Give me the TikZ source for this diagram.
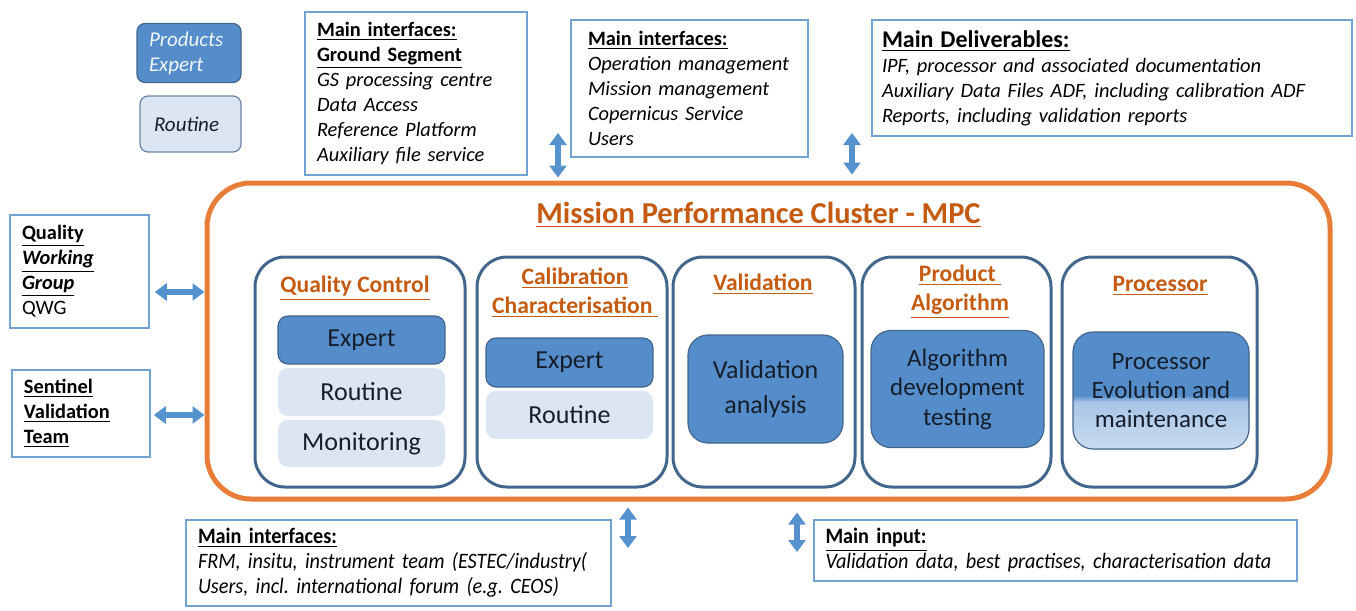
\documentclass[tikz,border=0pt]{standalone}
\usepackage{fontspec}
\setmainfont{Carlito}
\newfontfamily\narrowfont[FakeStretch=0.92]{Carlito}
\usetikzlibrary{arrows.meta}

\definecolor{mpcorange}{RGB}{232,125,55}
\definecolor{mpctitle}{RGB}{197,90,17}
\definecolor{darkfill}{RGB}{84,141,202}
\definecolor{lightfill}{RGB}{220,230,242}
\definecolor{procmid}{RGB}{168,198,230}
\definecolor{procbot}{RGB}{202,220,240}
\definecolor{clusterline}{RGB}{66,102,140}
\definecolor{infoline}{RGB}{112,162,212}
\definecolor{arrowblue}{RGB}{86,146,206}
\definecolor{darktext}{RGB}{22,30,44}

\pgfdeclareverticalshading{procfade}{100bp}{color(0bp)=(procbot); color(25bp)=(procbot);
  color(45bp)=(procmid); color(48bp)=(darkfill); color(100bp)=(darkfill)}

\begin{document}
\hyphenpenalty=10000
\frenchspacing
\begin{tikzpicture}[x=0.5pt, y=-0.5pt,
  infobox/.style={draw=infoline, line width=0.8pt, align=left, inner xsep=6pt, inner ysep=0pt,
    font=\fontsize{10.2}{12.5}\selectfont},
  cluster/.style={draw=clusterline, line width=1.5pt, rounded corners=15pt, minimum height=115pt},
  darkbox/.style={draw=clusterline, line width=0.6pt, fill=darkfill, rounded corners=5pt,
    text=darktext, align=center, font=\fontsize{13}{17.5}\selectfont},
  lightbox/.style={fill=lightfill, rounded corners=5pt, text=darktext, align=center,
    font=\fontsize{13}{17.5}\selectfont},
  head/.style={text=mpctitle, align=center, font=\fontsize{11.8}{14.5}\selectfont\bfseries},
  biarrow/.style={draw=arrowblue, line width=3pt, {Triangle[width=8.5pt,length=6pt]}-{Triangle[width=8.5pt,length=6pt]}}
]
\useasboundingbox (0,0) rectangle (1356,611);

% legend
\node[draw=clusterline, line width=0.6pt, fill=darkfill, rounded corners=4pt, minimum width=52pt,
  minimum height=29.5pt, text width=40pt, inner xsep=6pt, align=left, text=white!92!darkfill,
  font=\fontsize{10.5}{12.5}\selectfont\itshape] (legexpert) at (189,53) {Products\\Expert};
\node[draw=clusterline!80, line width=0.6pt, fill=lightfill, rounded corners=4pt, minimum width=50.5pt,
  minimum height=28pt, text width=36.5pt, inner xsep=7pt, align=left, text=darktext,
  font=\fontsize{10.5}{12.5}\selectfont\itshape] (legroutine) at (190.5,124) {Routine};

% interfaces
\node[infobox, minimum width=111pt, minimum height=81.5pt, text width=99pt] (gs) at (416,93.5)
  {\textbf{\underline{Main interfaces:}}\\ \textbf{\underline{Ground Segment}}\\
   \textit{GS processing centre}\\ \textit{Data Access}\\ \textit{Reference Platform}\\
   \textit{Auxiliary file service}};
\node[infobox, minimum width=118.5pt, minimum height=68.5pt, text width=101.5pt, inner xsep=8.5pt] (ops) at (689.5,88.5)
  {\textbf{\underline{Main interfaces:}}\\ \textit{Operation management}\\
   \textit{Mission management}\\ \textit{Copernicus Service}\\ \textit{Users}};
\node[infobox, minimum width=240pt, minimum height=58pt, text width=230pt, inner xsep=5pt] (deliv) at (1112,78)
  {{\fontsize{12}{12.5}\selectfont\textbf{\underline{Main Deliverables:}}}\\
   \textit{IPF, processor and associated documentation}\\
   \textit{Auxiliary Data Files ADF, including calibration ADF}\\
   \textit{Reports, including validation reports}};
\node[infobox, minimum width=69.5pt, minimum height=56.5pt, text width=57.5pt] (qwg) at (79.5,271.5)
  {\textbf{\underline{Quality}}\\ \textbf{\textit{\underline{Working}}}\\ \textbf{\textit{\underline{Group}}}\\ QWG};
\node[infobox, minimum width=69pt, minimum height=43.5pt, text width=57pt] (svt) at (81,413.5)
  {\textbf{\underline{Sentinel}}\\ \textbf{\underline{Validation}}\\ \textbf{\underline{Team}}};
\node[infobox, minimum width=212.5pt, minimum height=43pt, text width=200.5pt,
  font=\fontsize{11}{12.5}\selectfont\narrowfont] (extif) at (398.5,563)
  {\textbf{\underline{Main interfaces:}}\\
   \textit{FRM, insitu, instrument team (ESTEC/industry(}\\
   \textit{Users, incl. international forum (e.g. CEOS)}};
\node[infobox, minimum width=241.5pt, minimum height=30.5pt, text width=230pt, inner xsep=5.75pt,
  font=\fontsize{11}{12.5}\selectfont\narrowfont] (input) at (1055.5,550.5)
  {\textbf{\underline{Main input:}}\\
   \textit{Validation data, best practises, characterisation data}};

% MPC
\node[draw=mpcorange, line width=2.5pt, rounded corners=22pt, minimum width=561.5pt,
  minimum height=158pt] (mpc) at (768.5,341) {};
\node[text=mpctitle, font=\fontsize{15.2}{18}\selectfont\bfseries] (mpctitle) at (758.5,215)
  {\underline{Mission Performance Cluster - MPC}};

\node[cluster, minimum width=105pt] (qc) at (360,372) {};
\node[cluster, minimum width=95pt] (cal) at (572,372) {};
\node[cluster, minimum width=91pt] (val) at (764,372) {};
\node[cluster, minimum width=94.5pt] (alg) at (956.5,372) {};
\node[cluster, minimum width=97.5pt] (proc) at (1159.5,372) {};

\node[head] (qchead) at (355,288) {\underline{Quality Control}};
\node[head] (calhead) at (575,293) {\underline{Calibration}\\ \underline{Characterisation }};
\node[head] (valhead) at (763,284) {\underline{Validation}};
\node[head] (alghead) at (960,292) {\underline{Product }\\ \underline{Algorithm}};
\node[head] (prochead) at (1160,286) {\underline{Processor}};

\node[darkbox, minimum width=83.5pt, minimum height=24pt] (qcexpert) at (361.5,340) {Expert};
\node[lightbox, minimum width=83.5pt, minimum height=24pt] (qcroutine) at (361.5,392) {Routine};
\node[lightbox, minimum width=83.5pt, minimum height=23.5pt] (qcmonitor) at (361.5,443.5) {Monitoring};
\node[darkbox, minimum width=83.5pt, minimum height=24.5pt] (calexpert) at (569.5,362.5) {Expert};
\node[lightbox, minimum width=83.5pt, minimum height=24pt] (calroutine) at (569.5,415) {Routine};
\node[darkbox, minimum width=77.5pt, minimum height=54pt, rounded corners=10pt] (valanalysis) at (765.5,389)
  {Validation\\ analysis};
\node[darkbox, minimum width=86.5pt, minimum height=58.5pt, rounded corners=10pt,
  font=\fontsize{12.5}{14.75}\selectfont] (algdev) at (957.5,389) {Algorithm\\ development\\ testing};
\node[darkbox, shading=procfade, minimum width=88pt, minimum height=58.5pt, rounded corners=10pt,
  font=\fontsize{12.5}{14.5}\selectfont] (procevol) at (1161,390.5) {Processor\\ Evolution and\\ maintenance};

% arrows
\coordinate (gsarrow) at (558,133);
\coordinate (delivarrow) at (852,133);
\coordinate (extifarrow) at (628,548);
\coordinate (inputarrow) at (797,552);
\draw[biarrow, shorten <=2.5pt] (qwg.east |- 0,292) -- (mpc.west |- 0,292);
\draw[biarrow, shorten <=1.5pt] (svt.east |- 0,415) -- (mpc.west |- 0,415);
\draw[biarrow, shorten >=1.5pt] (gsarrow) -- (mpc.north -| gsarrow);
\draw[biarrow, shorten >=3pt] (delivarrow) -- (mpc.north -| delivarrow);
\draw[biarrow, shorten <=3pt] (mpc.south -| extifarrow) -- (extifarrow);
\draw[biarrow, shorten <=5.5pt] (mpc.south -| inputarrow) -- (inputarrow);
\end{tikzpicture}
\end{document}
